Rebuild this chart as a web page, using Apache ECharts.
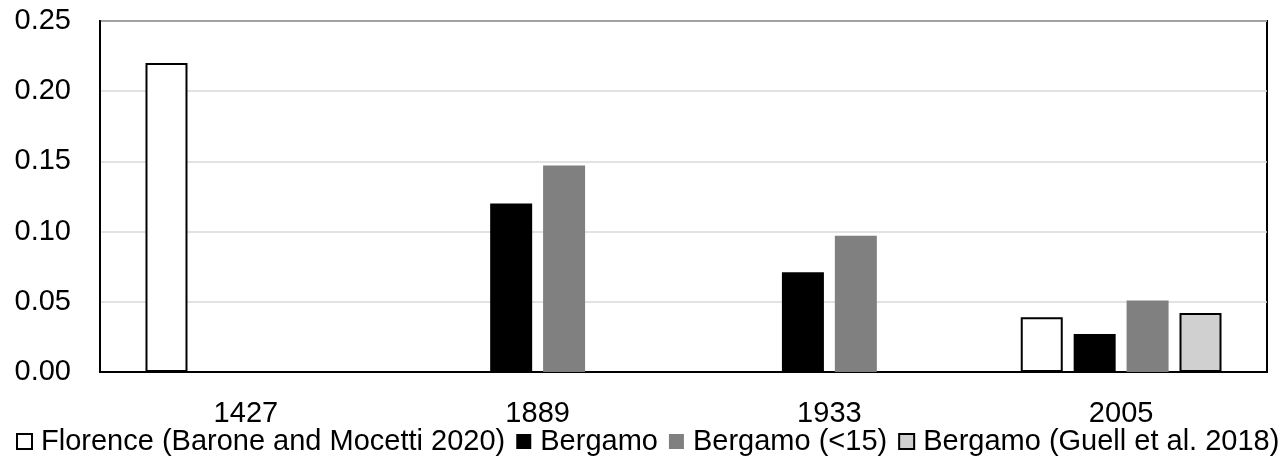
<!DOCTYPE html>
<html>
<head>
<meta charset="utf-8">
<script src="https://cdn.jsdelivr.net/npm/echarts@6/dist/echarts.min.js"></script>
<style>
  html, body { margin: 0; padding: 0; background: #fff; }
  #chart { width: 1284px; height: 457px; }
</style>
</head>
<body>
<div id="chart"></div>
<script>
// Census years on the horizontal axis
const years = ['1427', '1889', '1933', '2005'];

// Elasticity estimates per source ('-' = no estimate for that year)
const florence = [0.22, '-', '-', 0.039];
const bergamo = ['-', 0.12, 0.071, 0.027];
const bergamoUnder15 = ['-', 0.147, 0.097, 0.051];
const bergamoGuell = ['-', '-', '-', 0.042];

// Series names shown in the legend
const seriesNames = [
  'Florence (Barone and Mocetti 2020)',
  'Bergamo',
  'Bergamo (<15)',
  'Bergamo (Guell et al. 2018)'
];

const FONT = '"Liberation Sans", Arial, sans-serif';

const chart = echarts.init(document.getElementById('chart'), null, { renderer: 'canvas' });

function barSeries(name, data, style) {
  return {
    name: name,
    type: 'bar',
    data: data,
    barWidth: 42,
    barGap: '26%',
    itemStyle: style,
    emphasis: { disabled: true }
  };
}

chart.setOption({
  animation: false,
  backgroundColor: '#fff',
  grid: {
    left: 100, right: 17, top: 21, bottom: 85,
    show: true,
    borderColor: '#000',
    borderWidth: 2,
    backgroundColor: 'transparent'
  },
  legend: {
    left: 16,
    top: 427,
    width: 1268,
    padding: 0,
    itemWidth: 15,
    itemHeight: 15,
    itemGap: 11,
    icon: 'rect',
    textStyle: {
      fontFamily: FONT,
      fontSize: 29,
      color: '#000',
      padding: [0, 0, 0, 4]
    },
    data: seriesNames
  },
  xAxis: {
    type: 'category',
    data: years,
    axisLine: { show: true, lineStyle: { color: '#000', width: 2 } },
    axisTick: { show: false },
    axisLabel: {
      fontFamily: FONT,
      fontSize: 29,
      color: '#000',
      margin: 27
    },
    splitLine: { show: false }
  },
  yAxis: {
    type: 'value',
    min: 0,
    max: 0.25,
    interval: 0.05,
    axisLine: { show: true, lineStyle: { color: '#000', width: 2 } },
    axisTick: { show: false },
    axisLabel: {
      fontFamily: FONT,
      fontSize: 29,
      color: '#000',
      margin: 29,
      formatter: v => v.toFixed(2)
    },
    splitLine: { show: true, lineStyle: { color: '#d9d9d9', width: 1.5 } }
  },
  series: [
    barSeries(seriesNames[0], florence, { color: '#fff', borderColor: '#000', borderWidth: 2 }),
    barSeries(seriesNames[1], bergamo, { color: '#000' }),
    barSeries(seriesNames[2], bergamoUnder15, { color: '#808080' }),
    barSeries(seriesNames[3], bergamoGuell, { color: '#d0d0d0', borderColor: '#000', borderWidth: 2 })
  ]
});
</script>
</body>
</html>
